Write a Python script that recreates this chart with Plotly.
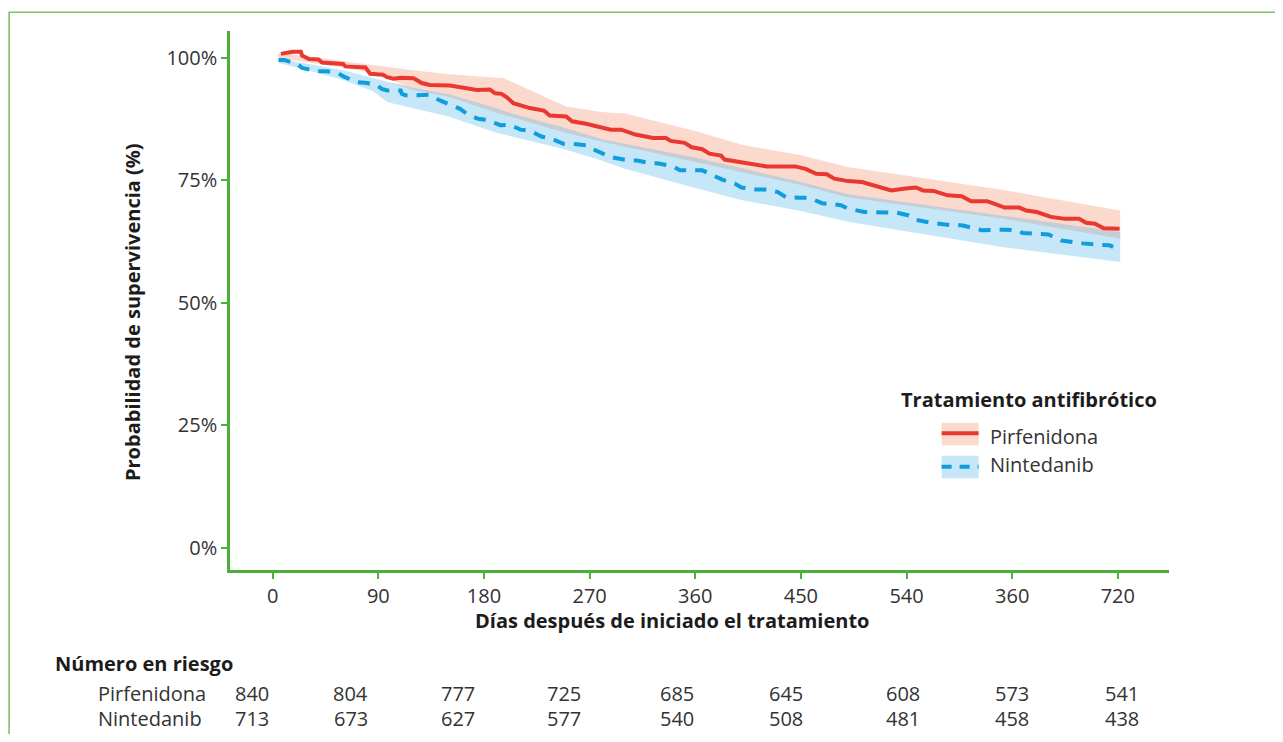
import plotly.graph_objects as go

# ---------------- data ----------------
pirf_days = [7, 17, 24, 25, 31, 39, 42, 49, 60, 62, 72, 79, 83, 94, 97.5, 103, 109, 120, 127, 134,
             151, 162, 174, 185, 189.5, 195, 199.5, 205, 219, 231, 236, 250, 255, 267, 280, 288,
             297, 309, 324, 335, 339, 351, 357, 366, 372, 382, 385, 397, 403, 415, 421, 445, 454,
             463, 472, 478.5, 490, 502, 515, 527, 539, 548, 554, 563, 575, 587, 595, 608.5, 614.5,
             623.5, 636, 642, 651, 663, 675, 687, 693, 700.5, 708, 721.5]
pirf_surv = [100.75, 101.2, 101.2, 100.4, 99.7, 99.6, 99.0, 98.9, 98.7, 98.2, 98.0, 98.0, 96.7, 96.5,
             96.0, 95.7, 95.9, 95.8, 94.8, 94.4, 94.3, 93.8, 93.4, 93.5, 92.7, 92.6, 91.9, 90.7, 89.7,
             89.2, 88.2, 88.0, 87.0, 86.5, 85.8, 85.3, 85.3, 84.3, 83.6, 83.6, 83.0, 82.6, 81.7, 81.3,
             80.4, 80.0, 79.2, 78.8, 78.5, 78.2, 77.8, 77.8, 77.3, 76.3, 76.2, 75.3, 74.8, 74.6, 73.7,
             72.9, 73.3, 73.5, 72.9, 72.8, 71.9, 71.7, 70.7, 70.7, 70.2, 69.4, 69.4, 68.8, 68.5, 67.5,
             67.1, 67.1, 66.3, 66.1, 65.2, 65.1]

nint_days = [5, 10, 21, 25, 38, 46.5, 56, 60.6, 72, 80.5, 89, 93, 97.5, 109, 110, 113, 123, 133, 143,
             151, 160, 165.5, 175, 182.5, 194, 202, 211, 219, 229, 238, 247.6, 256, 267, 272, 279, 288,
             303, 310.5, 321, 328.6, 341, 347, 366, 377, 383, 393.6, 399.4, 412, 419, 430, 437.5, 448,
             457, 468, 484, 490, 504, 521, 531, 542, 548, 561.5, 578, 587, 599, 604, 623.5, 634, 639,
             654, 661, 672, 679.5, 690, 699, 713, 716]
nint_surv = [99.5, 99.5, 98.7, 97.9, 97.2, 97.2, 96.8, 96.1, 95.0, 94.8, 94.3, 93.6, 93.3, 93.3, 92.6,
             92.3, 92.3, 92.4, 91.2, 90.4, 89.5, 88.5, 87.5, 87.3, 86.2, 86.3, 85.3, 85.1, 83.9, 83.4,
             82.4, 82.4, 82.1, 81.4, 80.7, 79.7, 79.0, 79.0, 78.5, 78.4, 77.8, 77.0, 77.0, 75.8, 75.1,
             74.3, 73.5, 73.1, 73.1, 72.6, 71.5, 71.4, 71.4, 70.3, 69.9, 69.2, 68.5, 68.4, 68.4, 67.8,
             66.9, 66.3, 65.8, 65.8, 65.1, 64.8, 64.9, 64.8, 64.2, 64.1, 63.9, 62.7, 62.4, 62.1, 61.9,
             61.7, 61.4]

# confidence bands (common day grid)
band_days = [5, 30, 60, 85, 98, 120, 150, 190, 197, 250, 280, 300, 360, 400, 450, 490, 540, 620, 722]
pirf_upper = [101.0, 100.2, 99.3, 98.5, 98.0, 97.4, 96.6, 95.9, 95.8, 90.0, 88.9, 88.6, 85.0, 82.2,
              80.1, 77.7, 75.9, 73.1, 68.8]
pirf_lower = [99.9, 99.0, 98.0, 96.8, 95.9, 93.4, 92.0, 88.8, 88.2, 84.6, 82.9, 81.8, 78.8, 76.6,
              74.0, 71.5, 69.9, 67.2, 63.1]
nint_upper = [99.8, 98.7, 97.4, 95.9, 95.0, 93.8, 92.5, 89.7, 89.1, 85.6, 83.4, 82.4, 79.6, 77.4,
              74.6, 72.1, 70.5, 67.8, 64.4]
nint_lower = [98.9, 97.4, 95.4, 93.2, 90.9, 89.6, 88.0, 84.7, 84.3, 81.2, 79.0, 77.3, 73.4, 70.9,
              68.7, 66.5, 64.5, 61.4, 58.3]

tick_days = [0, 90, 180, 270, 360, 450, 540, 630, 720]
tick_labels = ["0", "90", "180", "270", "360", "450", "540", "360", "720"]
y_ticks = [0, 25, 50, 75, 100]
y_tick_labels = ["0%", "25%", "50%", "75%", "100%"]

risk_pirf = [840, 804, 777, 725, 685, 645, 608, 573, 541]
risk_nint = [713, 673, 627, 577, 540, 508, 481, 458, 438]
series_names = ["Pirfenidona", "Nintedanib"]

# ---------------- styling / layout constants ----------------
RED = "#e8382f"
BLUE = "#0f9ddf"
RED_BAND = "#fbdacd"
BLUE_BAND = "#c6e7f7"
OVERLAP = "#c7cdd2"
GREEN_AX = "#4caf3a"
GREEN_FRAME = "#7cc46a"
FONT = "Open Sans"
TXT = "#333333"
DARK = "#1c1c1c"

W, H = 1283, 742          # page size
OFF = 8                   # browser body margin
FW, FH = W - 2 * OFF, H - 2 * OFF
L, R, T, B = 230, 1169.5, 30.7, 570.3   # plot area in page pixels


def px(x):
    return (x - L) / (R - L)


def py(y):
    return (B - y) / (B - T)


fig = go.Figure()

# bands
fig.add_trace(go.Scatter(x=band_days + band_days[::-1], y=pirf_upper + pirf_lower[::-1],
                         fill="toself", fillcolor=RED_BAND, line=dict(width=0),
                         mode="lines", hoverinfo="skip", showlegend=False))
fig.add_trace(go.Scatter(x=band_days + band_days[::-1], y=nint_upper + nint_lower[::-1],
                         fill="toself", fillcolor=BLUE_BAND, line=dict(width=0),
                         mode="lines", hoverinfo="skip", showlegend=False))
ov_up = [min(a, b) for a, b in zip(pirf_upper, nint_upper)]
ov_lo = [min(max(a, b), u) for a, b, u in zip(pirf_lower, nint_lower, ov_up)]
fig.add_trace(go.Scatter(x=band_days + band_days[::-1], y=ov_up + ov_lo[::-1],
                         fill="toself", fillcolor=OVERLAP, line=dict(width=0),
                         mode="lines", hoverinfo="skip", showlegend=False))

# survival curves
fig.add_trace(go.Scatter(x=nint_days, y=nint_surv, mode="lines", name=series_names[1],
                         line=dict(color=BLUE, width=4, dash="12px,9px"), showlegend=False))
fig.add_trace(go.Scatter(x=pirf_days, y=pirf_surv, mode="lines", name=series_names[0],
                         line=dict(color=RED, width=4), showlegend=False))

ppd = (1118.3 - 272.7) / 720.0
x_range = [-(272.7 - L) / ppd, (R - 272.7) / ppd]
ppp = (548.1 - 57.3) / 100.0
y_range = [-(B - 548.1) / ppp, 100 + (57.3 - T) / ppp]

axis_common = dict(showline=True, linecolor=GREEN_AX, linewidth=2.5, showgrid=False,
                   zeroline=False, ticks="outside", ticklen=6, tickwidth=2, tickcolor=GREEN_AX,
                   tickfont=dict(family=FONT, size=20, color=TXT))

fig.update_layout(
    width=FW, height=FH,
    margin=dict(l=L - OFF, r=FW - (R - OFF), t=T - OFF, b=FH - (B - OFF), autoexpand=False),
    paper_bgcolor="white", plot_bgcolor="white",
    xaxis=dict(range=x_range, tickmode="array", tickvals=tick_days, ticktext=tick_labels,
               **axis_common),
    yaxis=dict(range=y_range, tickmode="array", tickvals=y_ticks, ticktext=y_tick_labels,
               **axis_common),
    showlegend=False,
)

ann = []
# axis titles
ann.append(dict(text="<b>Días después de iniciado el tratamiento</b>", x=px(672.5), y=py(621),
                xref="paper", yref="paper", xanchor="center", yanchor="middle", showarrow=False,
                font=dict(family=FONT, size=20, color=DARK)))
ann.append(dict(text="<b>Probabilidad de supervivencia (%)</b>", x=px(133), y=py(312),
                xref="paper", yref="paper", xanchor="center", yanchor="middle", showarrow=False,
                textangle=-90, font=dict(family=FONT, size=20, color=DARK)))

# legend (manual)
ann.append(dict(text="<b>Tratamiento antifibrótico</b>", x=px(899), y=py(400),
                xref="paper", yref="paper", xanchor="left", yanchor="middle", showarrow=False,
                font=dict(family=FONT, size=20, color=DARK)))
for name, yc in zip(series_names, [437, 465]):
    ann.append(dict(text=name, x=px(988), y=py(yc), xref="paper", yref="paper",
                    xanchor="left", yanchor="middle", showarrow=False,
                    font=dict(family=FONT, size=20, color=TXT)))

shapes = []
shapes.append(dict(type="rect", xref="paper", yref="paper", x0=px(942), x1=px(979),
                   y0=py(423), y1=py(445.5), fillcolor=RED_BAND, line=dict(width=0), layer="above"))
shapes.append(dict(type="line", xref="paper", yref="paper", x0=px(942), x1=px(979),
                   y0=py(433.5), y1=py(433.5), line=dict(color=RED, width=4), layer="above"))
shapes.append(dict(type="rect", xref="paper", yref="paper", x0=px(942), x1=px(979),
                   y0=py(456), y1=py(478.5), fillcolor=BLUE_BAND, line=dict(width=0), layer="above"))
shapes.append(dict(type="line", xref="paper", yref="paper", x0=px(942), x1=px(979),
                   y0=py(467), y1=py(467), line=dict(color=BLUE, width=4, dash="10px,8px"),
                   layer="above"))

# outer frame (extends past right/bottom edges)
shapes.append(dict(type="rect", xref="paper", yref="paper", x0=px(9), x1=px(W + 20),
                   y0=py(12), y1=py(H + 20), line=dict(color=GREEN_FRAME, width=1.6),
                   fillcolor="rgba(0,0,0,0)", layer="below"))

# number at risk table
ann.append(dict(text="<b>Número en riesgo</b>", x=px(53), y=py(664), xref="paper", yref="paper",
                xanchor="left", yanchor="middle", showarrow=False,
                font=dict(family=FONT, size=20, color=DARK)))
risk_x_px = [252, 351, 458, 564, 677, 786, 903, 1012, 1122]
for name, row, yc in zip(series_names, [risk_pirf, risk_nint], [693.5, 718.5]):
    ann.append(dict(text=name, x=px(96), y=py(yc), xref="paper", yref="paper",
                    xanchor="left", yanchor="middle", showarrow=False,
                    font=dict(family=FONT, size=20, color=TXT)))
    for xp, v in zip(risk_x_px, row):
        ann.append(dict(text=str(v), x=px(xp), y=py(yc), xref="paper", yref="paper",
                        xanchor="center", yanchor="middle", showarrow=False,
                        font=dict(family=FONT, size=20, color=TXT)))

fig.update_layout(annotations=ann, shapes=shapes)
fig.write_html("out.html")
